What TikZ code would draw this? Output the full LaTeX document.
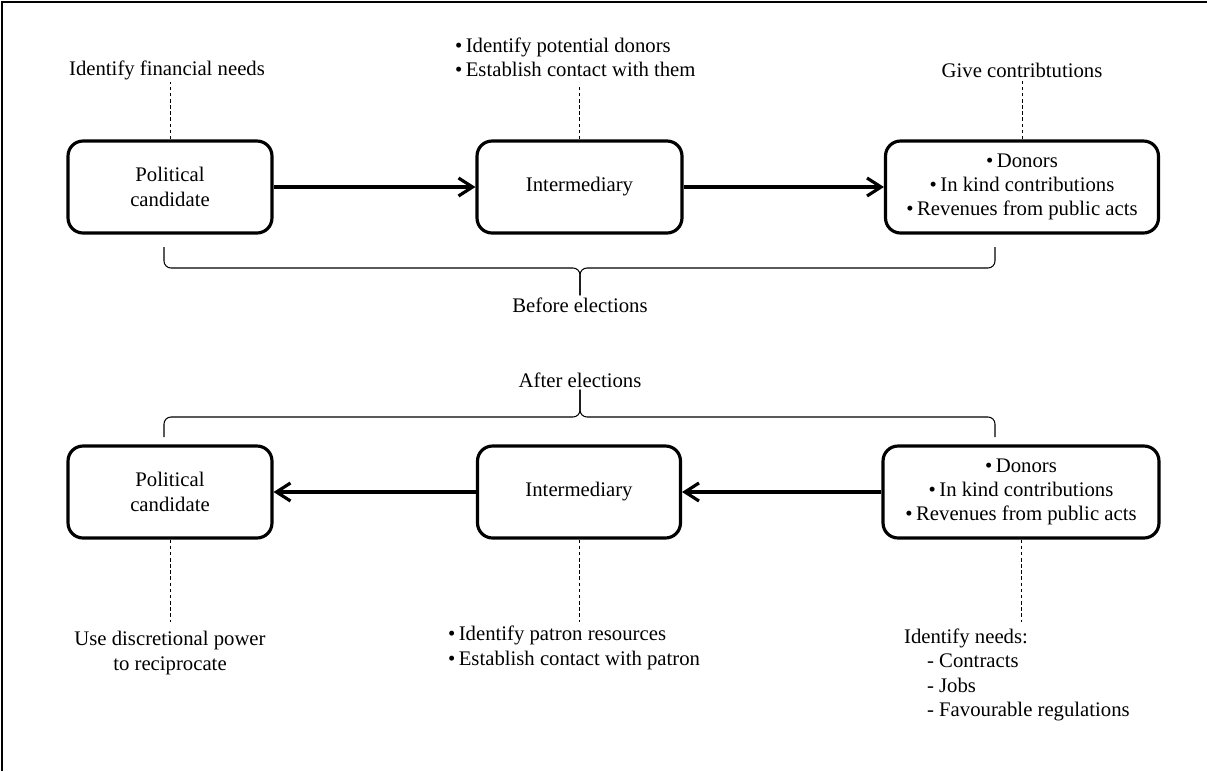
\documentclass[tikz,border=0pt]{standalone}
\usepackage{fontspec}
\setmainfont{Liberation Serif}
\usetikzlibrary{arrows.meta}

\begin{document}
\begin{tikzpicture}[x=0.02cm,y=-0.02cm,font=\fontsize{11.8}{13.8}\selectfont]

      \useasboundingbox (0,0) rectangle (1207,771);
      \draw[line width=1pt] (2,771) -- (2,2) -- (1207,2);

      \begin{scope}[every node/.style={draw,rounded corners=0.3cm,line width=1.8pt,
                    minimum height=1.84cm,align=center,inner sep=2pt}]
        \node[minimum width=4.08cm] (1) at (170,187)   {Political\\candidate};
        \node[minimum width=4.10cm] (2) at (579.5,187) {Intermediary};
        \node[minimum width=5.46cm] (3) at (1022,187)  {\textbullet\,Donors\\\textbullet\,In kind contributions\\\textbullet\,Revenues from public acts};
        \node[minimum width=4.08cm] (4) at (170,492)   {Political\\candidate};
        \node[minimum width=4.06cm] (5) at (579,492)   {Intermediary};
        \node[minimum width=5.52cm] (6) at (1021,492)  {\textbullet\,Donors\\\textbullet\,In kind contributions\\\textbullet\,Revenues from public acts};
      \end{scope}

      \begin{scope}[every node/.style={inner sep=1pt}]
        \node (a) at (167,70) {Identify financial needs};
        \node[anchor=west,align=left] (b) at (453,57) {\textbullet\,Identify potential donors\\\textbullet\,Establish contact with them};
        \node (c) at (1022,70) {Give contribtutions};
        \node[align=center] (d) at (170,653) {Use discretional power\\to reciprocate};
        \node[anchor=west,align=left] (e) at (446,648) {\textbullet\,Identify patron resources\\\textbullet\,Establish contact with patron};
        \node[anchor=north west,align=left] (f) at (902,627) {Identify needs:\\\hspace*{0.46cm}- Contracts\\\hspace*{0.46cm}- Jobs\\\hspace*{0.46cm}- Favourable regulations};
        \node (before) at (580,305) {Before elections};
        \node (after)  at (580,380) {After elections};
      \end{scope}

      % flow of money before and after
      \begin{scope}[every path/.style={line width=1.8pt,-{Straight Barb[length=0.28cm,width=0.36cm,line width=1.8pt]}}]
        \draw (1) -- (2);
        \draw (2) -- (3);
        \draw (6) -- (5);
        \draw (5) -- (4);
      \end{scope}

      % tasks of each actor
      \begin{scope}[every path/.style={draw,line width=0.5pt,dash pattern=on 2pt off 1.5pt}]
        \draw (1.north) -- (1.north |- a.south);
        \draw (2.north) -- ++(0,-52);
        \draw (3.north) -- (3.north |- c.south);
        \draw (4.south) -- ++(0,82);
        \draw (5.south) -- ++(0,82);
        \draw (6.south) -- ++(0,82);
      \end{scope}

      % braces
      \begin{scope}[every path/.style={draw,line width=0.6pt,rounded corners=4pt}]
        \draw (164,247) -- (164,268) -- (580,268) -- (before.north);
        \draw (995,247) -- (995,268) -- (580,268) -- (before.north);
        \draw (164,437) -- (164,417) -- (580,417) -- (after.south);
        \draw (995,437) -- (995,417) -- (580,417) -- (after.south);
      \end{scope}

    \end{tikzpicture}
\end{document}
